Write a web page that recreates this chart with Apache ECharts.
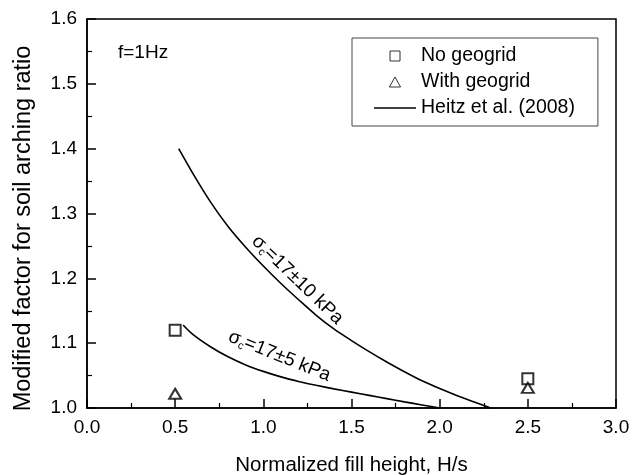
<!DOCTYPE html>
<html><head><meta charset="utf-8">
<script src="https://cdn.jsdelivr.net/npm/echarts@6/dist/echarts.min.js"></script>
<style>html,body{margin:0;padding:0;background:#fff}#c{width:632px;height:475px}</style>
</head><body><div id="c"></div>
<script>
// ---- data ----
const xTicks = [0.0, 0.5, 1.0, 1.5, 2.0, 2.5, 3.0];
const yTicks = [1.0, 1.1, 1.2, 1.3, 1.4, 1.5, 1.6];
const seriesNames = ['No geogrid', 'With geogrid', 'Heitz et al. (2008)'];
const noGeogridX = [0.5, 2.5];
const noGeogridY = [1.12, 1.045];
const withGeogridX = [0.5, 2.5];
const withGeogridY = [1.022, 1.031];
const heitz10X = [0.52, 0.6, 0.7, 0.8, 0.9, 1.0, 1.1, 1.2, 1.3, 1.4, 1.5, 1.6, 1.7, 1.8, 1.9, 2.0, 2.1, 2.2, 2.29];
const heitz10Y = [1.400, 1.362, 1.318, 1.280, 1.248, 1.219, 1.192, 1.167, 1.143, 1.122, 1.104, 1.087, 1.071, 1.056, 1.042, 1.030, 1.019, 1.009, 1.0];
const heitz5X = [0.545, 0.6, 0.7, 0.8, 0.9, 1.0, 1.1, 1.2, 1.3, 1.4, 1.5, 1.6, 1.7, 1.8, 1.9, 2.0];
const heitz5Y = [1.128, 1.1135, 1.0945, 1.079, 1.0665, 1.0565, 1.048, 1.041, 1.035, 1.0295, 1.0245, 1.0195, 1.0145, 1.0095, 1.0047, 1.0];
const xAxisTitle = 'Normalized fill height, H/s';
const yAxisTitle = 'Modified factor for soil arching ratio';
const frequencyNote = 'f=1Hz';
const curveLabelTexts = ['{t|σ}{s|c}{t|=17±10 kPa}', '{t|σ}{s|c}{t|=17±5 kPa}'];
const curveLabelAnchors = [[1.193, 1.1975], [1.091, 1.080]];

const zip = (xs, ys) => xs.map((x, i) => [x, ys[i]]);
const FONT = '"Liberation Sans", Arial, Helvetica, sans-serif';
const step = (a) => +(a[1] - a[0]).toFixed(6);

const chart = echarts.init(document.getElementById('c'), null, {renderer: 'canvas'});
const axisCommon = {
  axisLine: {show: true, lineStyle: {color: '#000', width: 1.5}},
  axisTick: {show: true, inside: true, length: 9, lineStyle: {color: '#000', width: 1.5}},
  minorTick: {show: true, splitNumber: 2, length: 5, lineStyle: {color: '#000', width: 1.2}},
  splitLine: {show: false},
  axisLabel: {color: '#000', fontSize: 19, fontFamily: FONT, margin: 10, formatter: v => v.toFixed(1)}
};
const emptyStyle = {color: '#fff', borderColor: '#000', borderWidth: 1};
const option = {
  animation: false,
  backgroundColor: '#fff',
  grid: {left: 87, right: 16, top: 19, bottom: 67, show: true, borderColor: '#000', borderWidth: 1.5,
         containLabel: false, outerBoundsMode: 'none'},
  xAxis: Object.assign({}, axisCommon, {
    type: 'value', min: xTicks[0], max: xTicks[xTicks.length - 1], interval: step(xTicks),
    name: xAxisTitle, nameLocation: 'middle', nameGap: 47,
    nameTextStyle: {color: '#000', fontSize: 20.5, fontFamily: FONT}
  }),
  yAxis: Object.assign({}, axisCommon, {
    type: 'value', min: yTicks[0], max: yTicks[yTicks.length - 1], interval: step(yTicks)
  }),
  legend: {
    orient: 'vertical', left: 352, top: 38, padding: [8, 23, 8, 22],
    itemWidth: 42, itemHeight: 10, itemGap: 6,
    borderColor: '#444', borderWidth: 1,
    textStyle: {color: '#000', fontSize: 19.5, fontFamily: FONT},
    data: [
      {name: seriesNames[0], icon: 'path://M0,0L10,0L10,10L0,10Z', itemStyle: emptyStyle},
      {name: seriesNames[1], icon: 'path://M5,0L10,9L0,9Z', itemStyle: emptyStyle},
      {name: seriesNames[2], icon: 'path://M0,0L42,0L42,1.6L0,1.6Z', itemStyle: {color: '#000', borderWidth: 0}}
    ]
  },
  series: [
    {name: seriesNames[0], type: 'scatter', symbol: 'emptyRect', symbolSize: 11,
     itemStyle: {color: '#000', borderColor: '#000', borderWidth: 1}, data: zip(noGeogridX, noGeogridY), z: 5},
    {name: seriesNames[1], type: 'scatter', symbol: 'emptyTriangle', symbolSize: [12, 10],
     itemStyle: {color: '#000', borderColor: '#000', borderWidth: 1}, data: zip(withGeogridX, withGeogridY), z: 5},
    {name: seriesNames[2], type: 'line', smooth: 0.3, symbol: 'none', showSymbol: false,
     lineStyle: {color: '#000', width: 1.6}, itemStyle: {color: '#000'}, data: zip(heitz10X, heitz10Y)},
    {name: seriesNames[2], type: 'line', smooth: 0.3, symbol: 'none', showSymbol: false,
     lineStyle: {color: '#000', width: 1.6}, itemStyle: {color: '#000'}, data: zip(heitz5X, heitz5Y)}
  ]
};
chart.setOption(option);

const rot = [-44, -22];
const graphics = curveLabelAnchors.map((p, i) => {
  const px = chart.convertToPixel({gridIndex: 0}, p);
  return {
    type: 'text', x: px[0], y: px[1], rotation: rot[i] * Math.PI / 180,
    style: {
      text: curveLabelTexts[i], align: 'center', verticalAlign: 'middle',
      rich: {
        t: {fontSize: 19, fontFamily: FONT, fill: '#000', lineHeight: 24},
        s: {fontSize: 11, fontFamily: FONT, fill: '#000', lineHeight: 24, padding: [10, 0, 0, 0]}
      }
    }
  };
});
graphics.push({
  type: 'text', left: 118, top: 43,
  style: {text: frequencyNote, fontSize: 19, fontFamily: FONT, fill: '#000'}
});
graphics.push({
  type: 'text', x: 24, y: 228.5, rotation: Math.PI / 2,
  style: {text: yAxisTitle, fontSize: 23.5, fontFamily: FONT, fill: '#000', align: 'center', verticalAlign: 'middle'}
});
chart.setOption({graphic: graphics});
</script>
</body></html>
